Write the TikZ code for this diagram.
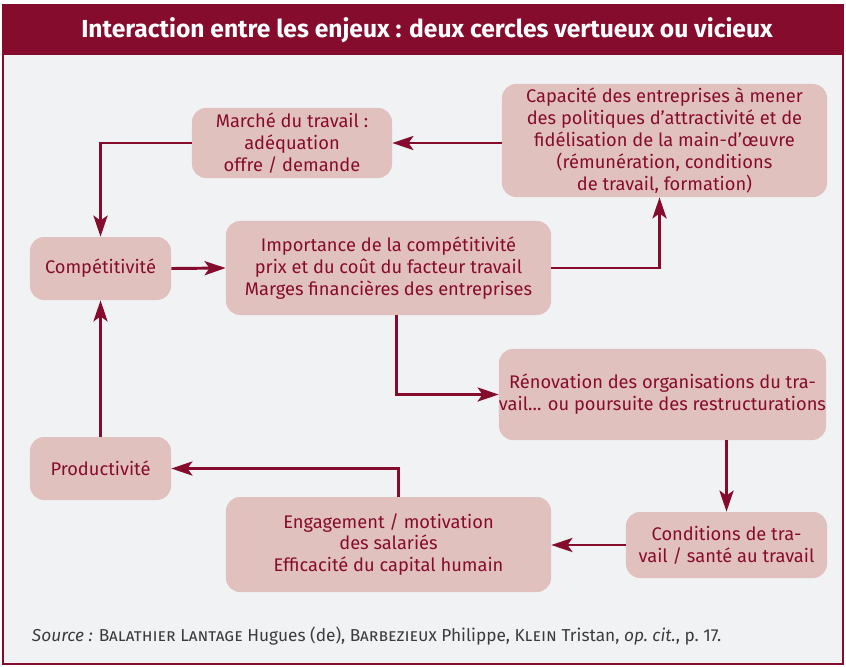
\documentclass[tikz,border=0pt]{standalone}
\usepackage{fontspec}
\setmainfont{Fira Sans}
\usetikzlibrary{arrows.meta}

\definecolor{bordeaux}{RGB}{134,12,46}
\definecolor{rosebox}{RGB}{225,193,189}
\definecolor{fond}{RGB}{241,242,244}
\definecolor{gristexte}{RGB}{60,60,60}

\begin{document}
\begin{tikzpicture}[
    x=0.025cm, y=-0.025cm,
    >={Stealth[length=15pt, width=10pt, inset=3.5pt]},
    etape/.style={rectangle, rounded corners=0.35cm, fill=rosebox, text=bordeaux,
                align=center, inner sep=0pt, font=\fontsize{13}{15.6}\selectfont},
    fleche/.style={->, line width=2.1pt, draw=bordeaux}
]
\useasboundingbox (0,0) rectangle (846,666);

% Background and title
\draw[bordeaux, line width=1.4pt, fill=fond] (3,5) rectangle (843,664);
\fill[bordeaux] (3,5) rectangle (843,55);
\node[text=white, font=\fontsize{17.5}{20}\selectfont\bfseries] (titre) at (427,30)
    {Interaction entre les enjeux : deux cercles vertueux ou vicieux};

% Upper loop
\node[etape, minimum width=5cm, minimum height=1.75cm] (marche) at (292,143)
    {Marché du travail :\\adéquation\\offre / demande};
\node[etape, minimum width=8.125cm, minimum height=2.825cm] (capacite) at (664.5,140.5)
    {Capacité des entreprises à mener\\des politiques d’attractivité et de\\fidélisation de la main-d’œuvre\\(rémunération, conditions\\de travail, formation)};
\node[etape, minimum width=3.525cm, minimum height=1.575cm] (compet) at (100.5,268.5)
    {Compétitivité};
\node[etape, minimum width=8.125cm, minimum height=2.35cm] (importance) at (388.5,268)
    {Importance de la compétitivité\\prix et du coût du facteur travail\\Marges financières des entreprises};

% Lower loop
\node[etape, minimum width=8.175cm, minimum height=2.275cm] (renovation) at (662.5,394.5)
    {Rénovation des organisations du tra-\\vail... ou poursuite des restructurations};
\node[etape, minimum width=3.525cm, minimum height=1.575cm] (productivite) at (100.5,468.5)
    {Productivité};
\node[etape, minimum width=8.125cm, minimum height=2.375cm] (engagement) at (388.5,544.5)
    {Engagement / motivation\\des salariés\\Efficacité du capital humain};
\node[etape, minimum width=5.025cm, minimum height=1.65cm] (conditions) at (726.5,545)
    {Conditions de tra-\\vail / santé au travail};

% Arrows - upper loop
\draw[fleche] (capacite.west |- marche.east) -- (marche.east);
\draw[fleche] (marche.west) -| (compet.north);
\draw[fleche] (compet.east) -- (importance.west);
\draw[fleche] (importance.east) -| ([xshift=-0.125cm]capacite.south);

% Arrows - lower loop
\draw[fleche] ([xshift=0.2cm]importance.south) |- (renovation.west);
\draw[fleche] (renovation.south -| conditions.north) -- (conditions.north);
\draw[fleche] (conditions.west) -- (engagement.east |- conditions.west);
\draw[fleche] ([xshift=0.25cm]engagement.north) |- (productivite.east);
\draw[fleche] (productivite.north) -- (compet.south);

% Source
\node[anchor=west, text=gristexte, font=\fontsize{12.3}{14}\selectfont] (source) at (27,636)
    {\textit{Source :} \textsc{Balathier Lantage} Hugues (de), \textsc{Barbezieux} Philippe, \textsc{Klein} Tristan, \textit{op.~cit.}, p.~17.};

\end{tikzpicture}
\end{document}
